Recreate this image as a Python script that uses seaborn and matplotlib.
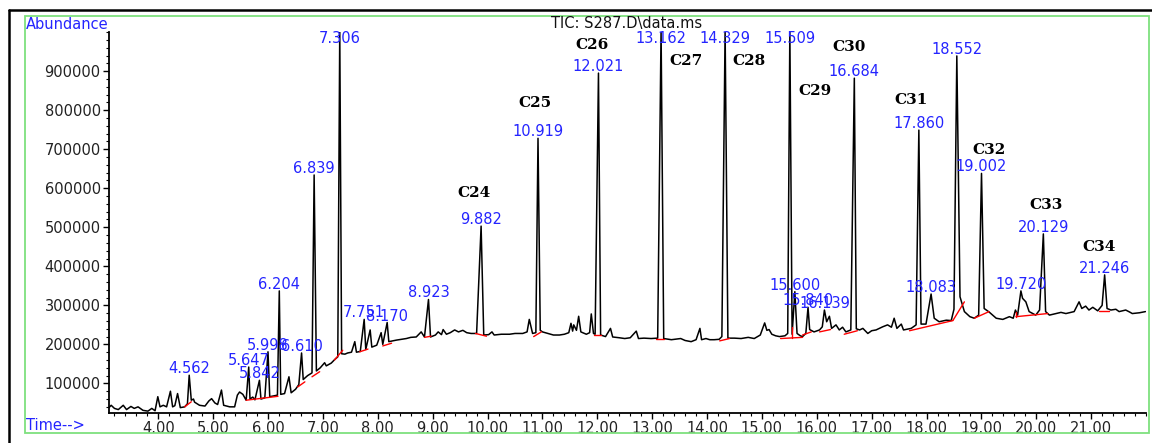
import pandas as pd
import matplotlib
matplotlib.use('Agg')
import matplotlib.pyplot as plt
from matplotlib.ticker import FixedLocator, MultipleLocator, FormatStrFormatter
from matplotlib.patches import Rectangle
from matplotlib.lines import Line2D
import seaborn as sns

# chromatogram trace (time in min, abundance in thousands)
trace_time = [
    3.10, 3.14, 3.20, 3.27, 3.36, 3.42, 3.50, 3.56, 3.63, 3.72, 3.81, 3.88, 3.94,
    3.99, 4.03, 4.09, 4.15, 4.22, 4.26, 4.30, 4.35, 4.40, 4.48, 4.53, 4.562, 4.60,
    4.64, 4.66, 4.75, 4.85, 4.92, 4.97, 5.03, 5.08, 5.15, 5.19, 5.30, 5.39, 5.44,
    5.48, 5.54, 5.60, 5.647, 5.67, 5.72, 5.76, 5.842, 5.87, 5.94, 5.998, 6.03, 6.10,
    6.17, 6.204, 6.23, 6.30, 6.38, 6.42, 6.50, 6.56, 6.610, 6.64, 6.72, 6.80, 6.839,
    6.88, 6.95, 7.03, 7.06, 7.15, 7.22, 7.27, 7.306, 7.34, 7.40, 7.45, 7.52, 7.58,
    7.61, 7.68, 7.751, 7.78, 7.86, 7.89, 7.98, 8.06, 8.09, 8.170, 8.20, 8.34, 8.43,
    8.52, 8.60, 8.70, 8.79, 8.85, 8.923, 8.96, 9.05, 9.10, 9.16, 9.19, 9.25, 9.32,
    9.40, 9.47, 9.55, 9.62, 9.70, 9.80, 9.882, 9.93, 10.02, 10.08, 10.12, 10.25,
    10.40, 10.50, 10.64, 10.72, 10.76, 10.82, 10.88, 10.919, 10.96, 11.00, 11.10,
    11.20, 11.31, 11.40, 11.48, 11.52, 11.55, 11.57, 11.62, 11.66, 11.70, 11.80,
    11.86, 11.89, 11.93, 11.96, 12.021, 12.06, 12.15, 12.24, 12.28, 12.40, 12.50,
    12.60, 12.71, 12.75, 12.85, 12.98, 13.10, 13.162, 13.21, 13.35, 13.52, 13.60,
    13.71, 13.80, 13.87, 13.90, 13.98, 14.05, 14.13, 14.22, 14.27, 14.329, 14.38,
    14.50, 14.62, 14.75, 14.86, 14.97, 15.05, 15.09, 15.13, 15.18, 15.25, 15.32,
    15.42, 15.47, 15.509, 15.55, 15.600, 15.64, 15.70, 15.74, 15.80, 15.840, 15.87,
    15.95, 16.05, 16.10, 16.139, 16.18, 16.23, 16.27, 16.35, 16.41, 16.47, 16.53,
    16.62, 16.684, 16.72, 16.78, 16.84, 16.93, 17.00, 17.08, 17.20, 17.29, 17.36,
    17.41, 17.46, 17.54, 17.58, 17.72, 17.81, 17.860, 17.90, 17.99, 18.083, 18.14,
    18.23, 18.36, 18.45, 18.50, 18.552, 18.61, 18.69, 18.79, 18.87, 18.95, 19.002,
    19.05, 19.14, 19.27, 19.39, 19.51, 19.58, 19.62, 19.66, 19.720, 19.75, 19.81,
    19.87, 19.99, 20.06, 20.129, 20.17, 20.24, 20.36, 20.45, 20.54, 20.69, 20.78,
    20.83, 20.90, 20.96, 21.03, 21.12, 21.20, 21.246, 21.29, 21.36, 21.45, 21.51,
    21.63, 21.70, 21.75, 21.88, 21.99,
]
trace_kabund = [
    38, 44, 36, 33, 44, 33, 41, 36, 40, 31, 29, 36, 30,
    66, 40, 44, 40, 80, 40, 43, 74, 38, 40, 48, 121, 57,
    60, 52, 44, 42, 55, 61, 50, 46, 83, 44, 40, 40, 70,
    78, 72, 57, 142, 60, 65, 58, 108, 60, 63, 181, 66, 68,
    70, 337, 72, 74, 117, 76, 85, 97, 178, 110, 120, 127, 634,
    132, 140, 153, 145, 152, 162, 168, 1005, 176, 175, 178, 180, 207,
    180, 182, 264, 187, 237, 193, 198, 230, 200, 256, 207, 211, 213,
    215, 218, 219, 232, 219, 315, 219, 224, 232, 225, 238, 226, 230,
    237, 232, 236, 230, 228, 228, 503, 224, 225, 232, 224, 226,
    226, 228, 228, 232, 264, 228, 230, 728, 236, 232, 228,
    224, 224, 226, 230, 254, 234, 250, 236, 272, 232, 226,
    230, 278, 228, 226, 895, 224, 220, 241, 219, 217, 215,
    217, 234, 215, 216, 215, 216, 1005, 215, 212, 215, 210,
    207, 212, 241, 212, 215, 212, 212, 213, 220, 1005, 216,
    216, 215, 218, 215, 224, 255, 236, 238, 226, 222, 220,
    222, 228, 1005, 226, 335, 228, 222, 220, 228, 295, 238,
    232, 237, 245, 288, 258, 272, 241, 250, 237, 244, 232,
    237, 882, 240, 237, 241, 228, 235, 237, 245, 250, 244,
    267, 241, 252, 237, 241, 250, 749, 252, 252, 329, 267,
    258, 262, 261, 290, 939, 322, 284, 271, 267, 275, 638,
    292, 283, 267, 264, 271, 267, 288, 275, 337, 318, 309,
    284, 275, 288, 483, 284, 275, 279, 282, 279, 284, 309,
    292, 298, 288, 295, 286, 300, 378, 292, 288, 290, 284,
    288, 283, 279, 281, 284,
]

# labelled peaks (retention time, apex abundance)
peak_labels = ['4.562', '5.647', '5.842', '5.998', '6.204', '6.610', '6.839', '7.306',
               '7.751', '8.170', '8.923', '9.882', '10.919', '12.021', '13.162',
               '14.329', '15.509', '15.600', '15.840', '16.139', '16.684', '17.860',
               '18.083', '18.552', '19.002', '19.720', '20.129', '21.246']
peak_kabund = [121, 142, 108, 181, 337, 178, 634, 1005, 264, 256, 315, 503, 728, 895,
               1005, 1005, 1005, 335, 295, 288, 882, 749, 329, 939, 638, 337, 483, 378]

# n-alkane labels and where they sit
carbon_labels = ['C24', 'C25', 'C26', 'C27', 'C28', 'C29', 'C30', 'C31', 'C32', 'C33', 'C34']
carbon_time = [9.76, 10.86, 11.91, 13.62, 14.77, 15.96, 16.59, 17.72, 19.14, 20.18, 21.15]
carbon_kabund = [589, 818, 967, 926, 926, 850, 962, 826, 698, 557, 450]

# red integration baselines
seg_t0 = [4.48, 5.60, 6.54, 6.80, 7.21, 7.67, 8.09, 8.85, 9.78, 10.84, 11.94, 13.07,
          14.23, 15.34, 15.74, 16.05, 16.50, 17.69, 18.48, 18.87, 19.63, 21.15]
seg_y0 = [40, 57, 91, 117, 160, 181, 196, 218, 228, 220, 224, 215,
          209, 215, 224, 232, 226, 235, 261, 267, 271, 286]
seg_t1 = [4.60, 6.18, 6.67, 6.94, 7.36, 7.82, 8.25, 8.97, 9.98, 10.98, 12.07, 13.22,
          14.41, 15.74, 15.90, 16.25, 16.74, 18.48, 18.69, 19.14, 20.21, 21.33]
seg_y1 = [53, 67, 104, 130, 185, 188, 203, 221, 221, 232, 224, 215,
          215, 218, 232, 238, 235, 261, 309, 284, 279, 286]

df = pd.DataFrame({'time': trace_time, 'abundance': [v * 1000 for v in trace_kabund]})

sns.set_theme(style='ticks')
plt.rcParams['font.family'] = ['DejaVu Sans']
blue = '#2424ff'

fig = plt.figure(figsize=(11.52, 4.43), dpi=100)
ax = fig.add_axes([0.0946, 0.0684, 0.9002, 0.86])

sns.lineplot(data=df, x='time', y='abundance', sort=False, estimator=None,
             color='black', lw=1.1, ax=ax)

for t0, y0, t1, y1 in zip(seg_t0, seg_y0, seg_t1, seg_y1):
    ax.plot([t0, t1], [y0 * 1000, y1 * 1000], color='red', lw=1)
# perpendicular drops between merged peaks
ax.plot([15.55, 15.55], [216000, 245000], color='red', lw=1)
ax.plot([19.63, 19.63], [271000, 282000], color='red', lw=1)

ax.set_xlim(3.1, 22.0)
ax.set_ylim(25000, 1001000)
ax.set_xlabel('')
ax.set_ylabel('')
sns.despine(ax=ax)
for s in ['left', 'bottom']:
    ax.spines[s].set_color('black')
    ax.spines[s].set_linewidth(1.3)

ax.xaxis.set_major_locator(FixedLocator(range(4, 22)))
ax.xaxis.set_minor_locator(MultipleLocator(0.2))
ax.xaxis.set_major_formatter(FormatStrFormatter('%.2f'))
ax.yaxis.set_major_locator(FixedLocator(range(100000, 1000000, 100000)))
ax.yaxis.set_minor_locator(MultipleLocator(20000))
ax.yaxis.set_major_formatter(FormatStrFormatter('%d'))
ax.tick_params(which='major', length=4, width=1, direction='out', color='black',
               labelsize=10.5, labelcolor='#222222', pad=2)
ax.tick_params(which='minor', length=2.5, width=0.8, direction='out', color='black')

for lab, h in zip(peak_labels, peak_kabund):
    ax.annotate(lab, (float(lab), min(h, 966) * 1000), xytext=(0, 2),
                textcoords='offset pixels', ha='center', va='baseline',
                color=blue, fontsize=10.5, annotation_clip=False)

for lab, t, h in zip(carbon_labels, carbon_time, carbon_kabund):
    ax.text(t, h * 1000, lab, ha='center', va='center', fontsize=11,
            fontweight='bold', family='DejaVu Serif', color='black')

# report frame
fig.add_artist(Rectangle((0.0217, 0.0219), 0.9757, 0.942, transform=fig.transFigure,
                         fill=False, edgecolor='#7ee07e', lw=1.3))
fig.add_artist(Line2D([0.0078, 1.0], [0.9774, 0.9774], transform=fig.transFigure,
                      color='black', lw=1.8))
fig.add_artist(Line2D([0.0078, 0.0078], [0.0, 0.9774], transform=fig.transFigure,
                      color='black', lw=1.8))

fig.text(0.0226, 0.9458, 'Abundance', color=blue, fontsize=10.5, ha='left', va='center')
fig.text(0.0226, 0.0384, 'Time-->', color=blue, fontsize=10.5, ha='left', va='center')
fig.text(0.544, 0.9475, 'TIC: S287.D\\data.ms', color='#111111', fontsize=10.5,
         ha='center', va='center')

fig.savefig('out.png', dpi=100)
